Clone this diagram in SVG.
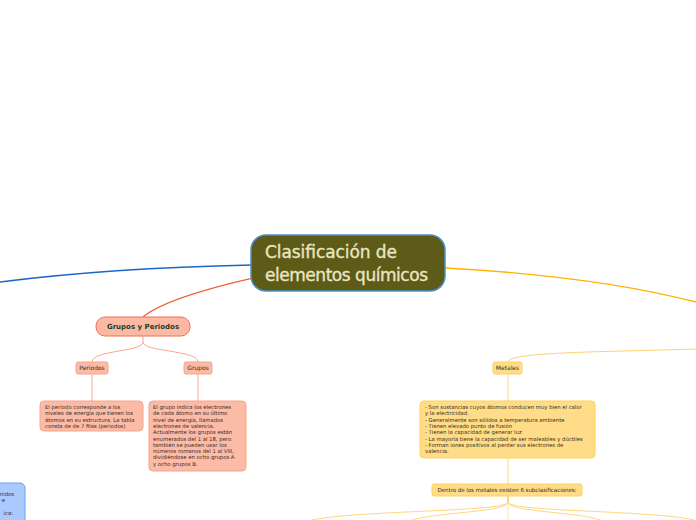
<svg xmlns="http://www.w3.org/2000/svg" width="696" height="520" viewBox="0 0 696 520">
<style>
.t{font-family:"DejaVu Sans","Verdana",sans-serif;fill:#3a2a20;}
.s{font-size:5.3px;}
.lbl{font-size:6px;}
.salm{fill:#fbbba7;stroke:#f7a48a;stroke-width:1;}
.yel{fill:#ffdd88;stroke:#ffcf5c;stroke-width:1;}
.ct{font-family:"DejaVu Sans",sans-serif;font-size:17px;fill:#e9e5c2;stroke:#e9e5c2;stroke-width:0.35;}
</style>
<rect width="696" height="520" fill="#ffffff"/>
<g id="connectors" fill="none">
  <path d="M252,265 C160,267 70,273 0,282" stroke="#1b66cc" stroke-width="1.5"/>
  <path d="M258,277 C200,290 160,303 143,317" stroke="#f05a28" stroke-width="1.3"/>
  <path d="M445,268 C540,273 630,285 696,302" stroke="#ffb300" stroke-width="1.3"/>
  <path d="M143,336 L143,342 C143,352 92,350 92,362" stroke="#fba68a" stroke-width="1"/>
  <path d="M143,342 C143,352 198,350 198,362" stroke="#fba68a" stroke-width="1"/>
  <path d="M92,374 L92,401" stroke="#fba68a" stroke-width="1"/>
  <path d="M198,374 L198,401" stroke="#fba68a" stroke-width="1"/>
  <path d="M508,362 C508,352 600,352 696,349" stroke="#ffd070" stroke-width="1"/>
  <path d="M508,374 L508,401" stroke="#ffd780" stroke-width="1"/>
  <path d="M508,458 L508,484" stroke="#ffd780" stroke-width="1"/>
  <path d="M508,496 L508,502" stroke="#ffc84a" stroke-width="1.5"/>
  <path d="M508,502 C508,512 360,510 312,520" stroke="#ffd780" stroke-width="1"/>
  <path d="M508,502 C508,512 440,512 412,520" stroke="#ffd780" stroke-width="1"/>
  <path d="M508,502 L508,520" stroke="#ffe4a8" stroke-width="1"/>
  <path d="M508,502 C508,512 580,512 600,520" stroke="#ffd780" stroke-width="1"/>
  <path d="M508,502 C508,512 650,510 694,520" stroke="#ffd780" stroke-width="1"/>
</g>
<g id="central">
  <rect x="251" y="235" width="194" height="56" rx="15" fill="#5e5a17" stroke="#4a90c8" stroke-width="1.5"/>
  <text x="265" y="258" class="ct" textLength="132">Clasificación de</text>
  <text x="265" y="281" class="ct" textLength="163">elementos químicos</text>
</g>
<g id="grupos-periodos">
  <rect x="96" y="317" width="94" height="19" rx="9" fill="#fbb9a3" stroke="#f07052" stroke-width="1"/>
  <text x="143" y="329" text-anchor="middle" font-family="DejaVu Sans, sans-serif" font-size="7" font-weight="bold" fill="#1f3b2a">Grupos y Periodos</text>
</g>
<g id="periodos">
  <rect x="76" y="362" width="32" height="12" rx="2" class="salm"/>
  <text x="92" y="370" text-anchor="middle" class="t lbl">Periodos</text>
</g>
<g id="grupos">
  <rect x="184" y="362" width="28" height="12" rx="2" class="salm"/>
  <text x="198" y="370" text-anchor="middle" class="t lbl">Grupos</text>
</g>
<g id="periodo-text">
  <rect x="40" y="401" width="103" height="30" rx="4" class="salm"/>
  <text class="t s" x="45" y="409">El periodo corresponde a los</text>
  <text class="t s" x="45" y="415.3">niveles de energía que tienen los</text>
  <text class="t s" x="45" y="421.6">átomos en su estructura. La tabla</text>
  <text class="t s" x="45" y="427.9">consta de de 7 filas (periodos)</text>
</g>
<g id="grupo-text">
  <rect x="149" y="401" width="97" height="70" rx="4" class="salm"/>
  <text class="t s" x="153" y="409">El grupo indica los electrones</text>
  <text class="t s" x="153" y="415.3">de cada átomo en su último</text>
  <text class="t s" x="153" y="421.6">nivel de energía, llamados</text>
  <text class="t s" x="153" y="427.9">electrones de valencia.</text>
  <text class="t s" x="153" y="434.2">Actualmente los grupos están</text>
  <text class="t s" x="153" y="440.5">enumerados del 1 al 18, pero</text>
  <text class="t s" x="153" y="446.8">también se pueden usar los</text>
  <text class="t s" x="153" y="453.1">números romanos del 1 al VIII,</text>
  <text class="t s" x="153" y="459.4">dividiéndose en ocho grupos A</text>
  <text class="t s" x="153" y="465.7">y ocho grupos B.</text>
</g>
<g id="metales">
  <rect x="493" y="362" width="29" height="12" rx="2" class="yel"/>
  <text x="507.5" y="370" text-anchor="middle" class="t lbl">Metales</text>
</g>
<g id="metales-text">
  <rect x="420" y="401" width="175" height="57" rx="4" class="yel"/>
  <text class="t s" x="425" y="409">- Son sustancias cuyos átomos conducen muy bien el calor</text>
  <text class="t s" x="425" y="415.3">y la electricidad.</text>
  <text class="t s" x="425" y="421.6">- Generalmente son sólidos a temperatura ambiente</text>
  <text class="t s" x="425" y="427.9">- Tienen elevado punto de fusión</text>
  <text class="t s" x="425" y="434.2">- Tienen la capacidad de generar luz</text>
  <text class="t s" x="425" y="440.5">- La mayoría tiene la capacidad de ser maleables y dúctiles</text>
  <text class="t s" x="425" y="446.8">- Forman iones positivos al perder sus electrones de</text>
  <text class="t s" x="425" y="453.1">valencia.</text>
</g>
<g id="dentro">
  <rect x="432" y="484" width="150" height="12" rx="2" class="yel"/>
  <text x="507" y="492.2" text-anchor="middle" class="t" font-size="5.6" textLength="139">Dentro de los metales existen 6 subclasificaciones:</text>
</g>
<g id="left-node">
  <rect x="-20" y="483" width="45" height="50" rx="5" fill="#a9c9ff" stroke="#6ea2f0" stroke-width="1"/>
  <text class="t s" x="14" y="496" text-anchor="end">nidos</text>
  <text class="t s" x="5" y="502" text-anchor="end">e</text>
  <text class="t s" x="13" y="515" text-anchor="end">ica:</text>
</g>
</svg>
